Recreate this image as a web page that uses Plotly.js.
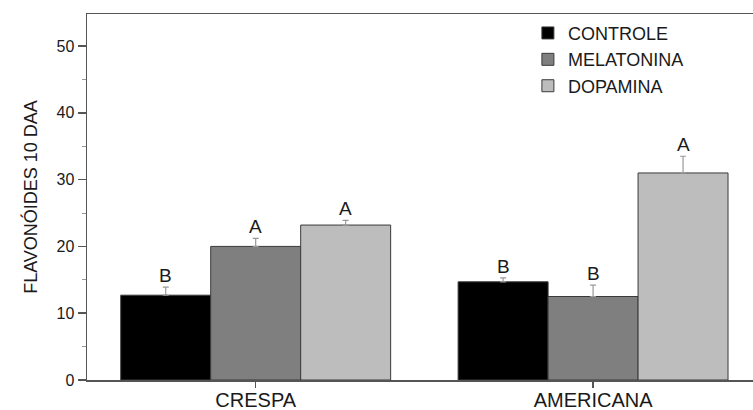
<!DOCTYPE html>
<html>
<head>
<meta charset="utf-8">
<script src="https://cdn.plot.ly/plotly-3.0.1.min.js"></script>
<style>html,body{margin:0;padding:0;background:#fff;}#chart{width:753px;height:410px;}</style>
</head>
<body>
<div id="chart"></div>
<script>
const categories = ['CRESPA', 'AMERICANA'];
const seriesNames = ['CONTROLE', 'MELATONINA', 'DOPAMINA'];
const controle = [12.7, 14.7];
const melatonina = [20.0, 12.5];
const dopamina = [23.2, 31.0];
const errControle = [1.2, 0.6];
const errMelatonina = [1.2, 1.7];
const errDopamina = [0.7, 2.5];
const lettersControle = ['B', 'B'];
const lettersMelatonina = ['A', 'B'];
const lettersDopamina = ['A', 'A'];
const yTickVals = [0, 10, 20, 30, 40, 50];

const values = [controle, melatonina, dopamina];
const errs = [errControle, errMelatonina, errDopamina];
const letters = [lettersControle, lettersMelatonina, lettersDopamina];
const colors = ['#000000', '#7f7f7f', '#bdbdbd'];
const bargap = 0.2;

const FONT = 'Liberation Sans, Arial, sans-serif';

const traces = seriesNames.map((name, i) => ({
  type: 'bar',
  name: name,
  x: categories,
  y: values[i],
  marker: {color: colors[i], line: {color: '#3a3a3a', width: 1}},
  error_y: {type: 'data', array: errs[i], arrayminus: errs[i].map(() => 0), symmetric: false,
            color: '#9a9a9a', thickness: 1.2, width: 3}
}));

const annotations = [];
const n = seriesNames.length;
const w = (1 - bargap) / n;
seriesNames.forEach((name, i) => {
  categories.forEach((c, ci) => {
    annotations.push({
      x: ci + (i - (n - 1) / 2) * w,
      y: values[i][ci] + errs[i][ci],
      xref: 'x', yref: 'y',
      text: letters[i][ci],
      showarrow: false,
      yanchor: 'bottom',
      yshift: -1,
      font: {family: FONT, size: 19, color: '#1a1a1a'}
    });
  });
});

const layout = {
  width: 753, height: 410,
  margin: {l: 87, r: 0, t: 14, b: 30},
  paper_bgcolor: '#fff', plot_bgcolor: '#fff',
  barmode: 'group', bargap: bargap, bargroupgap: 0,
  showlegend: true,
  legend: {
    x: 0.662, xanchor: 'left', y: 0.998, yanchor: 'top',
    font: {family: FONT, size: 18, color: '#1a1a1a'},
    bgcolor: 'rgba(0,0,0,0)', tracegroupgap: 0, itemwidth: 30
  },
  xaxis: {
    type: 'category',
    range: [-0.5, 1.474],
    showline: true, linecolor: '#555', linewidth: 1.5, mirror: true,
    ticks: 'outside', ticklen: 6, tickwidth: 1.5, tickcolor: '#555',
    ticklabelstandoff: -5,
    tickfont: {family: FONT, size: 20, color: '#1a1a1a'},
    showgrid: false, zeroline: false,
    minor: {ticks: 'outside', ticklen: 5, tickwidth: 1.5, tickcolor: '#555', dtick: 1, tick0: 0.5}
  },
  yaxis: {
    range: [0, 54.8],
    tickvals: yTickVals,
    showline: true, linecolor: '#555', linewidth: 1.5,
    ticks: 'outside', ticklen: 8, tickwidth: 1.5, tickcolor: '#555',
    tickfont: {family: FONT, size: 16, color: '#1a1a1a'},
    showgrid: false, zeroline: false,
    minor: {ticks: 'outside', ticklen: 4, tickwidth: 1, tickcolor: '#999', dtick: 5},
    title: {text: 'FLAVONÓIDES 10 DAA', font: {family: FONT, size: 18, color: '#1a1a1a'}, standoff: 14}
  },
  annotations: annotations
};

Plotly.newPlot('chart', traces, layout, {displayModeBar: false, staticPlot: true});
</script>
</body>
</html>
